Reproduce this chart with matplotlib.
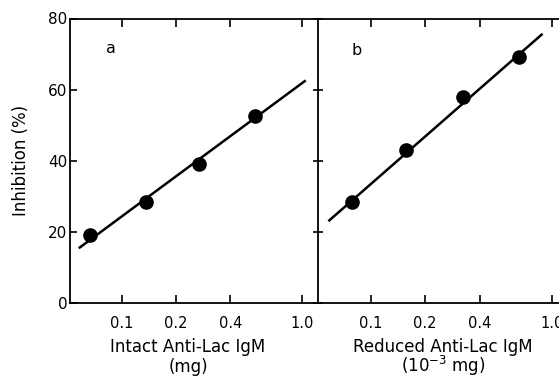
import matplotlib
matplotlib.use("Agg")
import matplotlib.pyplot as plt
from matplotlib.ticker import FixedLocator, NullLocator

# Data
intact_dose = [0.066, 0.136, 0.269, 0.548]
intact_inhib = [19.0, 28.4, 39.2, 52.7]
intact_fit_x = [0.0575, 1.05]
intact_fit_y = [15.4, 62.6]

reduced_dose = [0.079, 0.157, 0.322, 0.659]
reduced_inhib = [28.4, 43.1, 57.9, 69.3]
reduced_fit_x = [0.0583, 0.89]
reduced_fit_y = [23.0, 75.7]

xticks = [0.1, 0.2, 0.4, 1.0]
xticklabels = ["0.1", "0.2", "0.4", "1.0"]
yticks = [0, 20, 40, 60, 80]

plt.rcParams['font.family'] = ['DejaVu Sans']
W, H = 559, 378
fig = plt.figure(figsize=(W / 100, H / 100), dpi=100)

x0, xm, x1 = 70, 318, 559
ytop, ybot = 18.5, 303

axa = fig.add_axes([x0 / W, 1 - ybot / H, (xm - x0) / W, (ybot - ytop) / H])
axb = fig.add_axes([xm / W, 1 - ybot / H, (x1 - xm) / W, (ybot - ytop) / H])

for ax in (axa, axb):
    ax.set_xscale('log')
    ax.set_ylim(0, 80)
    ax.xaxis.set_major_locator(FixedLocator(xticks))
    ax.xaxis.set_minor_locator(NullLocator())
    ax.set_xticklabels(xticklabels)
    for s in ax.spines.values():
        s.set_linewidth(1.3)
    ax.tick_params(axis='x', which='major', direction='in', length=6, width=1.2,
                   top=True, labelsize=10.5, pad=9)

axa.set_xlim(0.0514, 1.228)
axb.set_xlim(0.0511, 1.097)

axa.plot(intact_fit_x, intact_fit_y, color='black', lw=1.8, solid_capstyle='butt')
axa.plot(intact_dose, intact_inhib, 'o', color='black', ms=9.5)
axb.plot(reduced_fit_x, reduced_fit_y, color='black', lw=1.8, solid_capstyle='butt')
axb.plot(reduced_dose, reduced_inhib, 'o', color='black', ms=9.5)

axa.set_yticks(yticks)
axa.tick_params(axis='y', direction='in', length=5, width=1.2, labelsize=11, pad=2)
axa.spines['right'].set_visible(False)

axb.set_yticks(yticks)
axb.set_yticklabels([])
axb.tick_params(axis='y', direction='inout', length=7, width=1.2)
axb.spines['right'].set_visible(False)

axa.set_ylabel("Inhibition (%)", fontsize=12, labelpad=13)
axa.text(0.145, 0.88, "a", transform=axa.transAxes, fontsize=11.5)
axb.text(0.14, 0.87, "b", transform=axb.transAxes, fontsize=11.5)

fig.text(188 / W, 1 - 347 / H, "Intact Anti-Lac IgM", ha='center', va='center', fontsize=12)
fig.text(188 / W, 1 - 367 / H, "(mg)", ha='center', va='center', fontsize=12)
fig.text(443 / W, 1 - 347 / H, "Reduced Anti-Lac IgM", ha='center', va='center', fontsize=12)
fig.text(443 / W, 1 - 366 / H, "(10$^{-3}$ mg)", ha='center', va='center', fontsize=12)

fig.savefig("out.png", dpi=100)
